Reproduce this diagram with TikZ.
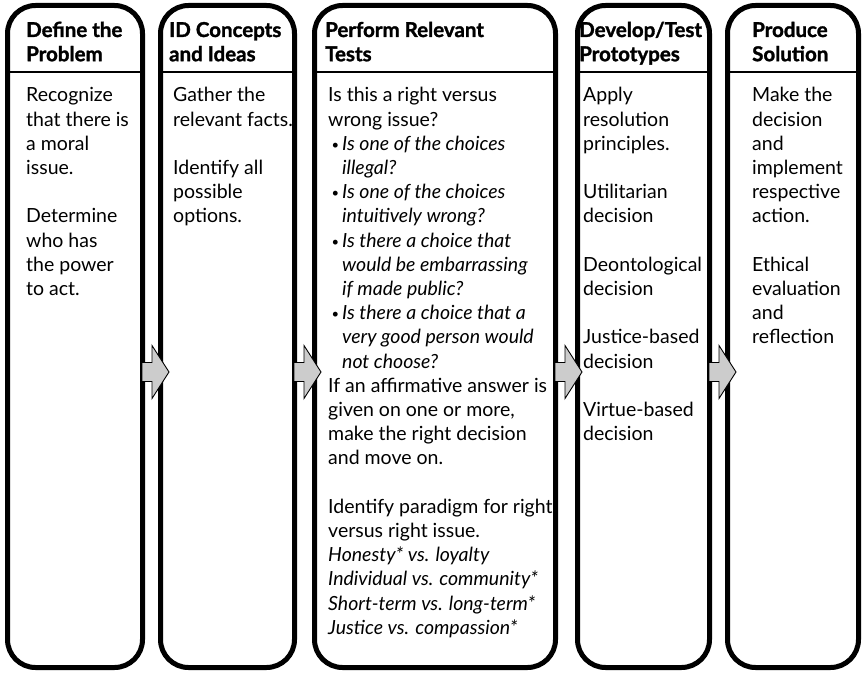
\documentclass[tikz,border=0pt]{standalone}
\usepackage{fontspec}
\setmainfont{Lato}[BoldFeatures={FakeBold=1.5}]
\usetikzlibrary{calc}
\newcommand\colt[1]{\begin{minipage}[t]{260pt}\raggedright #1\end{minipage}}
\newcommand\blk{\\[24.2pt]}
\newcommand\bulmark{\makebox[14pt][l]{\hspace{3.5pt}\raisebox{1pt}{\fontsize{13}{13}\selectfont•}}}
\newcommand\bul[2]{\bulmark\textit{#1}\\\hspace*{14pt}\textit{#2}}
\begin{document}
\begin{tikzpicture}[x=1pt,y=-1pt,
  box/.style={draw, line width=5pt, rounded corners=28pt, minimum width=#1, minimum height=662pt, inner sep=0pt, outer sep=0pt},
  head/.style={anchor=base west, inner sep=0pt, font=\bfseries\fontsize{20.5}{24.2}\selectfont},
  body/.style={anchor=base west, inner sep=0pt, font=\fontsize{19.5}{24.2}\selectfont},
  sep/.style={line width=2.5pt},
  flow/.style={draw=black, line width=0.9pt, fill=black!20, line join=miter}]
\useasboundingbox (0,0) rectangle (863,674);
% boxes
\node[box=135pt] (b1) at (75,336.5) {};
\node[box=134pt] (b2) at (227.5,336.5) {};
\node[box=241pt] (b3) at (435,336.5) {};
\node[box=132pt] (b4) at (643.5,336.5) {};
\node[box=131pt] (b5) at (793,336.5) {};
% header separators
\foreach \b in {b1,b2,b3,b4,b5}{
  \draw[sep] (\b.west |- 0,72) -- (\b.east |- 0,72);
}
% headers
\node[head] (h1) at (26,37) {\colt{Define the\\Problem}};
\node[head] (h2) at (169,37) {\colt{ID Concepts\\and Ideas}};
\node[head] (h3) at (325,37) {\colt{Perform Relevant\\Tests}};
\node[head] (h4) at (579,37) {\colt{Develop/Test\\Prototypes}};
\node[head] (h5) at (752,37) {\colt{Produce\\Solution}};
% bodies
\node[body] (t1) at (26,102) {\colt{Recognize\\that there is\\a moral\\issue.\blk Determine\\who has\\the power\\to act.}};
\node[body] (t2) at (173,102) {\colt{Gather the\\relevant facts.\blk Identify all\\possible\\options.}};
\node[body] (t3) at (328,102) {\colt{Is this a right versus\\wrong issue?\\
\bul{Is one of the choices}{illegal?}\\
\bul{Is one of the choices}{intuitively wrong?}\\
\bul{Is there a choice that}{would be embarrassing}\\\hspace*{14pt}\textit{if made public?}\\
\bul{Is there a choice that a}{very good person would}\\\hspace*{14pt}\textit{not choose?}\\
If an affirmative answer is\\given on one or more,\\make the right decision\\and move on.\blk
Identify paradigm for right\\versus right issue.\\
\textit{Honesty* vs. loyalty}\\\textit{Individual vs. community*}\\\textit{Short-term vs. long-term*}\\\textit{Justice vs. compassion*}}};
\node[body] (t4) at (583,102) {\colt{Apply\\resolution\\principles.\blk Utilitarian\\decision\blk Deontological\\decision\blk Justice-based\\decision\blk Virtue-based\\decision}};
\node[body] (t5) at (752,102) {\colt{Make the\\decision\\and\\implement\\respective\\action.\blk Ethical\\evaluation\\and\\reflection}};
% arrows
\foreach \l/\r in {b1/b2,b2/b3,b3/b4,b4/b5}{
  \path ($(\l.east)+(-0.5,35.5)$) coordinate (a-\l);
  \draw[flow] (a-\l) ++(0,-9.5) -- ++(10,0) -- ++(0,-17) -- ++(17,26.5) -- ++(-17,26.5) -- ++(0,-17) -- ++(-10,0) -- cycle;
}
\end{tikzpicture}
\end{document}
